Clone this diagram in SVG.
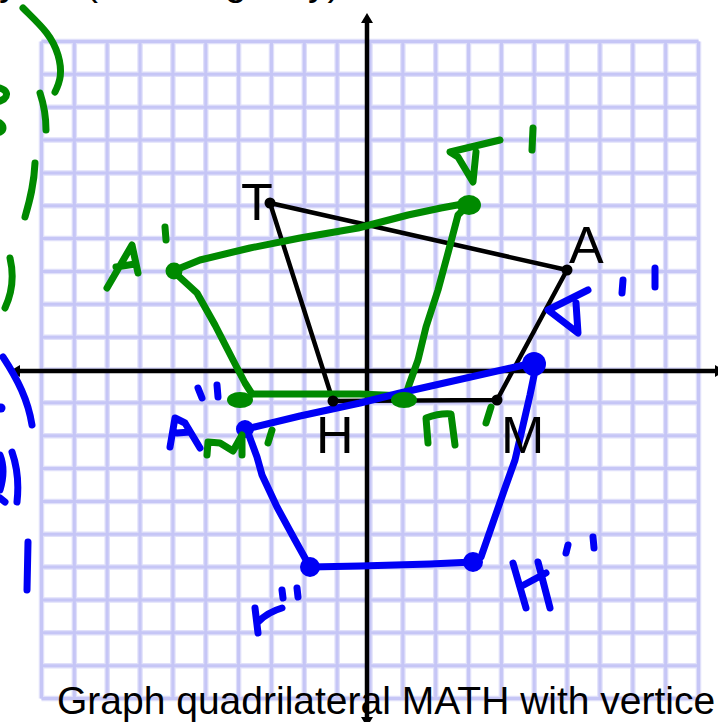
<svg xmlns="http://www.w3.org/2000/svg" width="718" height="722" viewBox="0 0 718 722">
<style>
.gh{fill:none;stroke:#e0e0fa;stroke-width:5.5}
.gc{fill:none;stroke:#c6c6f6;stroke-width:3}
.ax{stroke:#000;stroke-width:4.5;fill:none}
.blk{stroke:#000;stroke-width:4.5;fill:none;stroke-linejoin:round}
.g{stroke:#008a00;stroke-width:7;fill:none;stroke-linecap:round;stroke-linejoin:round}
.b{stroke:#0000f5;stroke-width:7;fill:none;stroke-linecap:round;stroke-linejoin:round}
.gf{fill:#008a00}
.bf{fill:#0000f5}
.lbl{font-family:"Liberation Sans",Arial,sans-serif;font-size:52px;fill:#000}
.txt{font-family:"Liberation Sans",Arial,sans-serif;font-size:39px;fill:#000}
</style>
<defs>
<marker id="ah" viewBox="0 0 10 12" refX="0" refY="6" markerWidth="10" markerHeight="12" markerUnits="userSpaceOnUse" orient="auto-start-reverse"><path d="M0,0 L10,6 L0,12 z" fill="#000"/></marker>
</defs>
<rect width="718" height="722" fill="#fff"/>
<g id="grid">
<path class="gh" d="M41.5,41.5V698.5M74.35,41.5V698.5M107.2,41.5V698.5M140.05,41.5V698.5M172.9,41.5V698.5M205.75,41.5V698.5M238.6,41.5V698.5M271.45,41.5V698.5M304.3,41.5V698.5M337.15,41.5V698.5M370,41.5V698.5M402.85,41.5V698.5M435.7,41.5V698.5M468.55,41.5V698.5M501.4,41.5V698.5M534.25,41.5V698.5M567.1,41.5V698.5M599.95,41.5V698.5M632.8,41.5V698.5M665.65,41.5V698.5M698.5,41.5V698.5M41.5,41.5H698.5M41.5,74.35H698.5M41.5,107.2H698.5M41.5,140.05H698.5M41.5,172.9H698.5M41.5,205.75H698.5M41.5,238.6H698.5M41.5,271.45H698.5M41.5,304.3H698.5M41.5,337.15H698.5M41.5,370H698.5M41.5,402.85H698.5M41.5,435.7H698.5M41.5,468.55H698.5M41.5,501.4H698.5M41.5,534.25H698.5M41.5,567.1H698.5M41.5,599.95H698.5M41.5,632.8H698.5M41.5,665.65H698.5M41.5,698.5H698.5"/>
<path class="gc" d="M41.5,41.5V698.5M74.35,41.5V698.5M107.2,41.5V698.5M140.05,41.5V698.5M172.9,41.5V698.5M205.75,41.5V698.5M238.6,41.5V698.5M271.45,41.5V698.5M304.3,41.5V698.5M337.15,41.5V698.5M370,41.5V698.5M402.85,41.5V698.5M435.7,41.5V698.5M468.55,41.5V698.5M501.4,41.5V698.5M534.25,41.5V698.5M567.1,41.5V698.5M599.95,41.5V698.5M632.8,41.5V698.5M665.65,41.5V698.5M698.5,41.5V698.5M41.5,41.5H698.5M41.5,74.35H698.5M41.5,107.2H698.5M41.5,140.05H698.5M41.5,172.9H698.5M41.5,205.75H698.5M41.5,238.6H698.5M41.5,271.45H698.5M41.5,304.3H698.5M41.5,337.15H698.5M41.5,370H698.5M41.5,402.85H698.5M41.5,435.7H698.5M41.5,468.55H698.5M41.5,501.4H698.5M41.5,534.25H698.5M41.5,567.1H698.5M41.5,599.95H698.5M41.5,632.8H698.5M41.5,665.65H698.5M41.5,698.5H698.5"/>
</g>
<g id="axes">
<line class="ax" x1="367" y1="717" x2="367" y2="23" marker-start="url(#ah)" marker-end="url(#ah)"/>
<line class="ax" x1="715" y1="371" x2="20" y2="371" marker-start="url(#ah)" marker-end="url(#ah)"/>
</g>
<g id="connectors">
<g id="MATH">
<path class="blk" d="M497,400 L567,270 L270,203 L333,401 Z"/>
</g>
<g id="image1">
<path class="g" d="M173,271 L200,260 L250,248 L300,238 L358,228 L408,215 L441,208 L468,203"/>
<path class="g" d="M468,205 L458,215 L448,253 L438,290 L426,327 L418,360 L409,385 L405,397"/>
<path class="g" d="M405,396 L360,394 L300,394 L253,394"/>
<path class="g" d="M173,271 L197,293 L215,325 L233,360 L245,383 L252,394"/>
</g>
<g id="image2">
<path class="b" d="M246,429 L300,416 L360,403 L400,393 L533,363"/>
<path class="b" d="M536,366 L530,395 L515,460 L505,488 L481,557 L473,562 L430,564 L360,566 L310,567 L295,540 L277,507 L262,475 L257,457 L247,430"/>
</g>
</g>
<g id="vertex-T"><circle cx="270" cy="203" r="5.5"/><text class="lbl" x="241" y="220">T</text></g>
<g id="vertex-A"><circle cx="567" cy="270" r="5.5"/><text class="lbl" x="569" y="263">A</text></g>
<g id="vertex-H"><circle cx="333" cy="401" r="5.5"/><text class="lbl" x="316" y="453">H</text></g>
<g id="vertex-M"><circle cx="497" cy="400" r="5.5"/><text class="lbl" x="501" y="453">M</text></g>
<g id="vertex-A1"><circle class="gf" cx="174" cy="271" r="8.5"/></g>
<g id="vertex-T1"><ellipse class="gf" cx="469" cy="205" rx="12" ry="10"/></g>
<g id="vertex-M1"><ellipse class="gf" cx="404" cy="400" rx="13" ry="8"/></g>
<g id="vertex-H1"><ellipse class="gf" cx="240" cy="400" rx="13" ry="8"/></g>
<g id="vertex-A2"><circle class="bf" cx="245" cy="429" r="9"/></g>
<g id="vertex-T2"><circle class="bf" cx="534" cy="364" r="12"/></g>
<g id="vertex-H2"><circle class="bf" cx="473" cy="562" r="10"/></g>
<g id="vertex-M2"><circle class="bf" cx="310" cy="567" r="10"/></g>
<g id="ink-green">
<path class="g" d="M23,8 C40,25 52,35 58,55 C63,72 60,82 55,92"/>
<path class="g" d="M0,88 C6,90 9,94 4,99 L0,101 M0,123 C4,126 4,130 0,132"/>
<path class="g" d="M40,93 C44,105 46,118 46,130"/>
<path class="g" d="M35,163 C34,185 30,200 25,217"/>
<path class="g" d="M10,258 C14,275 12,293 5,308"/>
<path class="g" d="M107,288 L132,245 L138,273 M116,267 L135,264 M165,227 L166,240"/>
<path class="g" d="M500,140 L450,152 L458,157 L473,182 L476,152 M533,128 L532,150"/>
<path class="g" d="M428,443 L426,418 Q440,413 451,414 L455,445 M491,407 L486,423"/>
<path class="g" d="M207,455 L208,442 L220,443 L233,451 L242,435 L242,455 M272,430 L268,443"/>
</g>
<g id="ink-blue">
<path class="b" d="M3,357 C18,380 28,400 32,425"/>
<circle class="bf" cx="1" cy="408" r="4.5"/>
<path class="b" d="M0,455 Q6,470 0,490 M0,498 L5,502 M12,452 Q20,475 17,502"/>
<path class="b" d="M28,542 L27,590"/>
<path class="b" d="M588,290 L548,310 L578,333 L576,303 M623,280 L622,293 M655,268 L655,287"/>
<path class="b" d="M170,447 L175,418 L185,423 L200,448 M177,433 L190,432 M198,388 L202,398 M217,385 L218,397"/>
<path class="b" d="M258,633 L255,608 M258,622 Q268,612 282,608 M282,590 L283,598 M297,588 L298,597"/>
<path class="b" d="M513,563 L526,608 M538,562 L550,608 M520,587 L546,573 M568,545 L566,553 M593,537 L594,548"/>
</g>
<g id="captions">
<text class="txt" x="-1" y="-5">y</text>
<text class="txt" x="85" y="-5">(</text>
<text class="txt" x="225" y="-5">g</text>
<text class="txt" x="308" y="-5">y)</text>
<text class="txt" x="57" y="714">Graph quadrilateral MATH with vertice</text>
</g>
</svg>
